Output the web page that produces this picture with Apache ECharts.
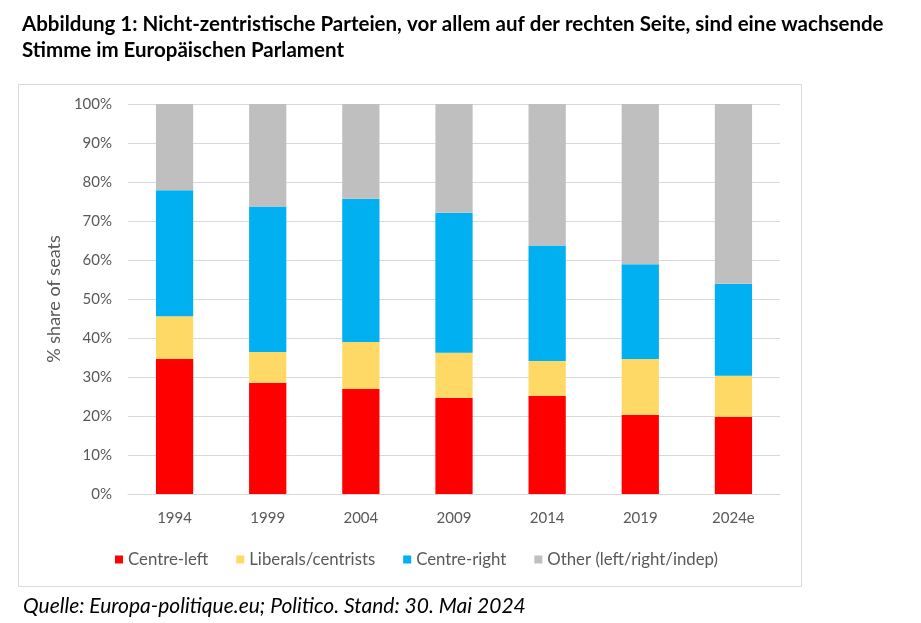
<!DOCTYPE html>
<html>
<head>
<meta charset="utf-8">
<script src="https://cdn.jsdelivr.net/npm/echarts@6/dist/echarts.min.js"></script>
<style>
html,body{margin:0;padding:0;background:#fff;}
#c{width:921px;height:623px;}
</style>
</head>
<body>
<div id="c"></div>
<script>
const categories = ['1994','1999','2004','2009','2014','2019','2024e'];
const centreLeft = [34.6, 28.5, 26.9, 24.6, 25.1, 20.3, 19.8];
const liberals = [11.0, 7.9, 12.1, 11.6, 9.0, 14.3, 10.5];
const centreRight = [32.3, 37.3, 36.7, 35.9, 29.6, 24.3, 23.6];
const other = [22.1, 26.3, 24.3, 27.9, 36.3, 41.1, 46.1];
const yTicks = [0,10,20,30,40,50,60,70,80,90,100];

const FONT = 'Lato';
const chart = echarts.init(document.getElementById('c'));
function bar(name, data, color){
  return {name, type:'bar', stack:'s', data, barWidth:'40%', itemStyle:{color}, emphasis:{disabled:true}};
}
chart.setOption({
  animation:false,
  textStyle:{fontFamily:FONT},
  title:[
    {text:'Abbildung 1: Nicht-zentristische Parteien, vor allem auf der rechten Seite, sind eine wachsende\nStimme im Europäischen Parlament',
     left:17, top:6, textStyle:{fontFamily:FONT, fontWeight:'bold', fontSize:20.5, color:'#000', lineHeight:26}},
    {text:'Quelle: Europa-politique.eu; Politico. Stand: 30. Mai 2024',
     left:18, top:591, textStyle:{fontFamily:FONT, fontStyle:'italic', fontWeight:'normal', fontSize:21, color:'#000'}}
  ],
  graphic:[{type:'rect', shape:{x:18.5,y:84.5,width:783,height:502}, style:{fill:'none', stroke:'#d9d9d9', lineWidth:1}, z:-1}],
  legend:{
    top:546, left:110, itemWidth:8, itemHeight:8, itemGap:28, icon:'rect',
    textStyle:{fontFamily:FONT, fontSize:16.8, color:'#595959'},
    data:['Centre-left','Liberals/centrists','Centre-right','Other (left/right/indep)']
  },
  grid:{left:128, right:141, top:104, bottom:129},
  xAxis:{
    type:'category', data:categories,
    axisLine:{lineStyle:{color:'#d9d9d9'}}, axisTick:{show:false},
    axisLabel:{fontFamily:FONT, fontSize:15, color:'#595959', margin:17}
  },
  yAxis:{
    type:'value', min:0, max:100, interval:10,
    name:'% share of seats', nameLocation:'middle', nameGap:64,
    nameTextStyle:{fontFamily:FONT, fontSize:18, color:'#595959'},
    axisLine:{show:false}, axisTick:{show:false},
    axisLabel:{fontFamily:FONT, fontSize:15, color:'#595959', margin:16,
      formatter:v => yTicks.includes(v) ? v + '%' : ''},
    splitLine:{lineStyle:{color:'#d9d9d9', width:1}}
  },
  series:[
    bar('Centre-left', centreLeft, '#FF0000'),
    bar('Liberals/centrists', liberals, '#FFD966'),
    bar('Centre-right', centreRight, '#00B0F0'),
    bar('Other (left/right/indep)', other, '#BFBFBF')
  ]
});
</script>
</body>
</html>
